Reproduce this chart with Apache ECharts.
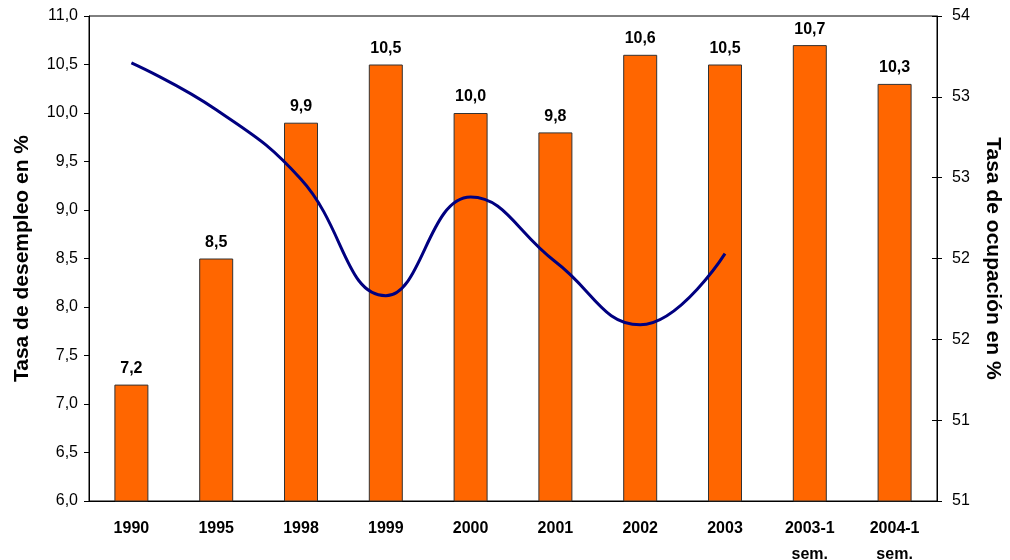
<!DOCTYPE html>
<html>
<head>
<meta charset="utf-8">
<script src="https://cdn.jsdelivr.net/npm/echarts@6/dist/echarts.min.js"></script>
<style>html,body{margin:0;padding:0;background:#fff}#c{width:1010px;height:560px}</style>
</head>
<body>
<div id="c"></div>
<script>
var categories = ['1990','1995','1998','1999','2000','2001','2002','2003','2003-1\nsem.','2004-1\nsem.'];
var desempleo = [7.2, 8.5, 9.9, 10.5, 10.0, 9.8, 10.6, 10.5, 10.7, 10.3];
var ocupacion = [53.71, 53.42, 52.99, 52.27, 52.88, 52.48, 52.09, 52.53, null, null];

var chart = echarts.init(document.getElementById('c'));
var font = 'Liberation Sans, Arial, sans-serif';
chart.setOption({
  animation: false,
  textStyle: {fontFamily: font},
  grid: {left: 89, right: 73, top: 16, bottom: 59, containLabel: false, outerBoundsMode: 'none',
    show: true, borderColor: '#000', borderWidth: 1},
  xAxis: {
    type: 'category', data: categories,
    axisLine: {lineStyle: {color: '#000', width: 1}},
    axisTick: {show: false},
    axisLabel: {color: '#000', fontWeight: 'bold', fontSize: 16, margin: 15, lineHeight: 26, fontFamily: font}
  },
  yAxis: [{
    type: 'value', min: 6, max: 11, interval: 0.5,
    name: 'Tasa de desempleo en %', nameLocation: 'middle', nameGap: 56, nameRotate: 90,
    nameTextStyle: {fontSize: 21, fontWeight: 'bold', color: '#000', fontFamily: font},
    splitLine: {show: false},
    axisLine: {show: true, lineStyle: {color: '#000'}},
    axisTick: {show: true, length: 5, lineStyle: {color: '#000'}},
    axisLabel: {color: '#000', fontSize: 16, margin: 11, fontFamily: font,
      formatter: function(v){return v.toFixed(1).replace('.', ',');}}
  },{
    type: 'value', min: 51, max: 54, interval: 0.5, position: 'right',
    name: 'Tasa de ocupación en %', nameLocation: 'middle', nameGap: 45, nameRotate: -90,
    nameTextStyle: {fontSize: 21, fontWeight: 'bold', color: '#000', fontFamily: font},
    splitLine: {show: false},
    axisLine: {show: true, lineStyle: {color: '#000'}},
    axisTick: {show: true, length: 5, lineStyle: {color: '#000'}},
    axisLabel: {color: '#000', fontSize: 16, margin: 15, fontFamily: font,
      formatter: function(v){return String(Math.floor(v));}}
  },{
    type: 'value', min: 51, max: 54, interval: 0.5, position: 'right',
    splitLine: {show: false},
    axisLine: {show: false},
    axisTick: {show: true, inside: true, length: 5, lineStyle: {color: '#000'}},
    axisLabel: {show: false}
  }],
  series: [{
    type: 'bar', data: desempleo, barWidth: 34, yAxisIndex: 0,
    itemStyle: {color: '#FF6600', borderColor: '#333', borderWidth: 1},
    label: {show: true, position: 'top', distance: 8, color: '#000', fontWeight: 'bold', fontSize: 16, fontFamily: font,
      formatter: function(p){return p.value.toFixed(1).replace('.', ',');}}
  },{
    type: 'line', data: ocupacion, yAxisIndex: 1, smooth: 0.45, showSymbol: false, symbol: 'none',
    lineStyle: {color: '#000080', width: 3}, z: 5
  }]
});
</script>
</body>
</html>
